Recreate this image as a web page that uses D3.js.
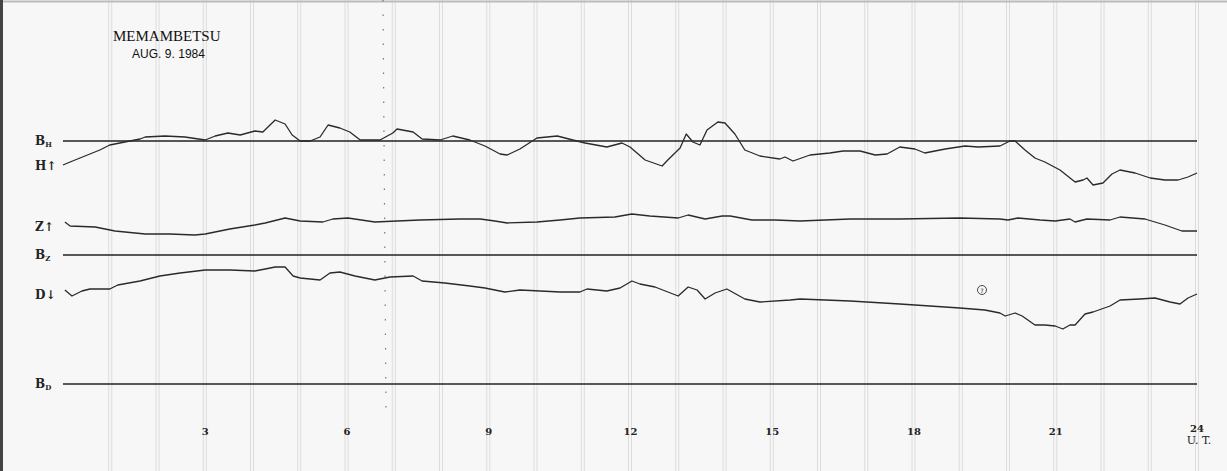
<!DOCTYPE html>
<html>
<head>
<meta charset="utf-8">
<script src="https://cdn.jsdelivr.net/npm/d3@7"></script>
<style>
  html, body { margin: 0; padding: 0; background: #f7f7f7; }
  svg { display: block; }
</style>
</head>
<body>
<svg id="chart" width="1227" height="471"></svg>
<script>
// hours UT
const hTime = [0,0.15,0.36,0.78,0.99,1.31,1.63,1.74,2.16,2.58,3.01,3.22,3.49,3.75,4.06,4.23,4.49,4.70,4.85,5.02,5.23,5.44,5.61,5.86,6.07,6.29,6.71,6.98,7.07,7.41,7.60,7.98,8.25,8.61,8.93,9.25,9.40,9.67,10.03,10.46,10.79,11.05,11.51,11.83,12.00,12.32,12.68,12.80,13.06,13.19,13.33,13.48,13.63,13.86,14.01,14.22,14.43,14.75,15.17,15.28,15.45,15.81,16.23,16.51,16.87,17.19,17.44,17.71,18.03,18.24,18.67,19.09,19.37,19.83,20.04,20.15,20.36,20.57,20.78,21.10,21.42,21.59,21.67,21.80,22.01,22.20,22.37,22.69,23.01,23.32,23.60,23.81,24];
// deflection from B_H (nT, up positive)
const hValue = [-24,-21,-17,-9,-4,-1,2,4,5,4,1,5,8,6,10,9,21,17,6,0,0,4,16,13,9,1,1,8,12,9,2,1,5,1,-5,-13,-14,-8,3,5,1,-2,-6,-2,-6,-19,-25,-19,-7,7,-1,-4,11,19,18,7,-9,-15,-18,-16,-20,-14,-12,-10,-10,-14,-13,-6,-8,-12,-8,-5,-6,-5,0,0,-9,-17,-21,-29,-41,-39,-37,-44,-42,-33,-29,-32,-37,-39,-39,-36,-32];

const zTime = [0.04,0.15,0.68,1.10,1.74,2.26,2.79,3.01,3.53,4.06,4.28,4.70,5.02,5.50,5.71,6.03,6.60,7.07,7.56,8.40,8.83,9.14,9.40,10.03,10.52,10.94,11.68,12.04,12.42,13.02,13.23,13.59,13.95,14.12,14.58,15.07,15.60,16.66,17.71,18.98,19.83,20.00,20.21,20.68,21.00,21.31,21.42,21.67,22.16,22.37,22.90,23.32,23.68,24];
// deflection from B_Z
const zValue = [33,29,28,24,21,21,20,21,26,30,32,37,34,33,36,37,33,34,35,36,36,34,32,33,35,37,38,41,39,37,40,36,39,39,35,35,34,36,36,37,36,35,37,35,34,36,33,36,35,38,36,30,24,24];

const dTime = [0.04,0.19,0.40,0.57,0.99,1.16,1.63,2.05,2.48,3.01,3.53,4.06,4.28,4.49,4.70,4.87,5.02,5.44,5.65,5.86,6.18,6.60,6.92,7.41,7.60,8.08,8.61,8.93,9.35,9.67,10.10,10.52,10.94,11.09,11.51,11.79,12.04,12.21,12.53,13.02,13.23,13.42,13.59,13.80,14.05,14.43,14.75,15.39,15.60,16.66,17.71,18.35,18.98,19.51,19.83,19.94,20.15,20.30,20.57,20.78,21.00,21.16,21.31,21.42,21.63,21.80,22.16,22.37,22.79,23.11,23.43,23.64,23.81,24];
// deflection from B_D
const dValue = [94,88,93,95,95,99,103,108,111,114,114,113,115,117,117,108,106,104,111,112,108,104,107,108,103,101,98,96,92,94,93,92,92,95,93,96,103,100,97,88,97,94,85,91,95,85,82,84,85,83,80,78,76,74,71,68,71,68,59,59,58,55,59,59,70,72,78,84,85,86,82,80,86,90];

const baselines = [
  { name: "H", level: 141 },
  { name: "Z", level: 255 },
  { name: "D", level: 384 }
];
const hourTicks = [3, 6, 9, 12, 15, 18, 21];

const svg = d3.select("#chart");
const width = +svg.attr("width");
const height = +svg.attr("height");

const x = d3.scaleLinear().domain([0, 24]).range([63, 1197]);
// 1 nT = 1 px on the trace, shifted to each baseline
const yFor = base => d3.scaleLinear().domain([0, 100]).range([base, base - 100]);
const yH = yFor(141), yZ = yFor(255), yD = yFor(384);

svg.append("rect").attr("width", width).attr("height", height).attr("fill", "#f7f7f7");

// hour grid, drawn as double light lines like the chart paper
const grid = svg.append("g");
d3.range(1, 25).forEach(h => {
  [-1.5, 1.5].forEach(o => {
    grid.append("line")
      .attr("x1", x(h) + o).attr("x2", x(h) + o)
      .attr("y1", 0).attr("y2", height)
      .attr("stroke", "#dcdcdc").attr("stroke-width", 1);
  });
});

// paper edges
svg.append("line").attr("x1", 0).attr("x2", width).attr("y1", 1.5).attr("y2", 1.5)
  .attr("stroke", "#bbb").attr("stroke-width", 2);
svg.append("line").attr("x1", 1.5).attr("x2", 1.5).attr("y1", 0).attr("y2", height)
  .attr("stroke", "#444").attr("stroke-width", 3);

// dotted scan mark
svg.append("line").attr("x1", 383).attr("x2", 386).attr("y1", 0).attr("y2", 410)
  .attr("stroke", "#777").attr("stroke-width", 1.2).attr("stroke-dasharray", "1.5,13");

// baselines
svg.append("g").selectAll("line")
  .data(baselines)
  .join("line")
  .attr("x1", x(0)).attr("x2", x(24))
  .attr("y1", d => d.level).attr("y2", d => d.level)
  .attr("stroke", "#222").attr("stroke-width", 1.4);

const traces = [
  { t: hTime, v: hValue, y: yH },
  { t: zTime, v: zValue, y: yZ },
  { t: dTime, v: dValue, y: yD }
];

traces.forEach(s => {
  const pts = s.t.map((t, i) => [t, s.v[i]]);
  svg.append("path")
    .attr("d", d3.line().x(d => x(d[0])).y(d => s.y(d[1])).curve(d3.curveLinear)(pts))
    .attr("fill", "none")
    .attr("stroke", "#2a2a2a")
    .attr("stroke-width", 1.3)
    .attr("stroke-linejoin", "round");
});

// left labels
const lab = svg.append("g")
  .attr("font-family", "'DejaVu Serif', 'Liberation Serif', serif")
  .attr("font-weight", "bold").attr("font-size", 12).attr("fill", "#222");

function baseLabel(sub, yPos) {
  const t = lab.append("text").attr("x", 35).attr("y", yPos + 4);
  t.append("tspan").text("B");
  t.append("tspan").attr("font-size", 7).attr("dy", 2).text(sub);
}
baseLabel("H", 141);
baseLabel("Z", 255);
baseLabel("D", 384);
lab.append("text").attr("x", 35).attr("y", 170).text("H\u2191");
lab.append("text").attr("x", 35).attr("y", 231).text("Z\u2191");
lab.append("text").attr("x", 35).attr("y", 299).text("D\u2193");

// title
svg.append("text")
  .attr("x", 113).attr("y", 41)
  .attr("font-family", "'Liberation Serif', 'DejaVu Serif', serif")
  .attr("font-size", 15).attr("fill", "#111")
  .text("MEMAMBETSU");
svg.append("text")
  .attr("x", 132).attr("y", 58)
  .attr("font-family", "'Liberation Sans Narrow', 'Liberation Sans', sans-serif")
  .attr("font-size", 12).attr("fill", "#111")
  .attr("textLength", 73)
  .text("AUG.  9. 1984");

// hour labels
const axis = svg.append("g")
  .attr("transform", "translate(0,435)")
  .call(d3.axisBottom(x).tickValues(hourTicks).tickSize(0).tickPadding(0));
axis.select(".domain").remove();
axis.selectAll("text")
  .attr("font-family", "'DejaVu Serif', serif").attr("font-size", 10)
  .attr("font-weight", "bold").attr("fill", "#222").attr("dy", "0");

svg.append("text").attr("x", x(24)).attr("y", 432).attr("text-anchor", "middle")
  .attr("font-family", "'DejaVu Serif', serif").attr("font-size", 10)
  .attr("font-weight", "bold").attr("fill", "#222").text("24");
svg.append("text").attr("x", x(24) + 2).attr("y", 444).attr("text-anchor", "middle")
  .attr("font-family", "'DejaVu Serif', serif").attr("font-size", 11)
  .attr("fill", "#222").text("U. T.");

// circled mark
svg.append("circle").attr("cx", 982).attr("cy", 290).attr("r", 4.5)
  .attr("fill", "none").attr("stroke", "#333").attr("stroke-width", 0.9);
svg.append("text").attr("x", 982).attr("y", 293).attr("text-anchor", "middle")
  .attr("font-family", "'DejaVu Sans', sans-serif").attr("font-size", 6).attr("fill", "#333").text("7");
</script>
</body>
</html>
